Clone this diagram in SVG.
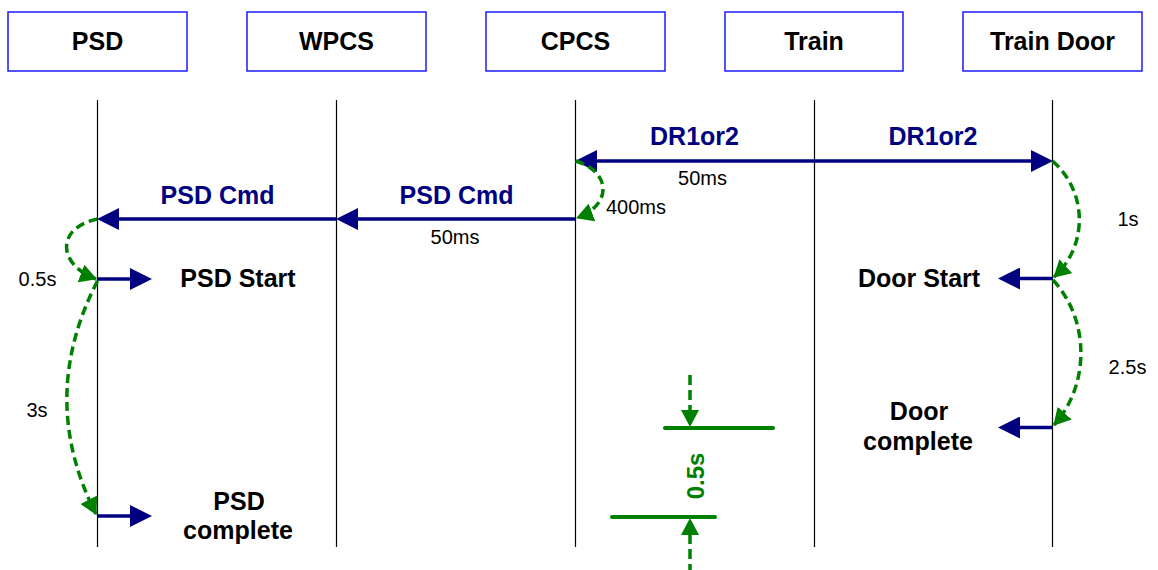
<svg xmlns="http://www.w3.org/2000/svg" width="1158" height="570" viewBox="0 0 1158 570">
  <style>
    .box{fill:#fff;stroke:#1a1aff;stroke-width:1.5}
    .hdr{font-family:"Liberation Sans",Arial,sans-serif;font-weight:bold;font-size:25px;fill:#000;text-anchor:middle}
    .life{stroke:#000;stroke-width:1.2;fill:none}
    .msg{stroke:#000080;stroke-width:3.5;fill:none}
    .mlbl{font-family:"Liberation Sans",Arial,sans-serif;font-weight:bold;font-size:25px;fill:#000080;text-anchor:middle}
    .evt{font-family:"Liberation Sans",Arial,sans-serif;font-weight:bold;font-size:25px;fill:#000;text-anchor:middle}
    .tm{font-family:"Liberation Sans",Arial,sans-serif;font-size:20px;fill:#000;text-anchor:middle}
    .gd{stroke:#008000;stroke-width:3.5;fill:none;stroke-dasharray:9 5}
    .gs{stroke:#008000;stroke-width:4;fill:none;stroke-linecap:round}
    .gfill{fill:#008000}
    .glbl{font-family:"Liberation Sans",Arial,sans-serif;font-weight:bold;font-size:24px;fill:#008000;text-anchor:middle}
  </style>
  <defs>
    <marker id="nav" markerUnits="userSpaceOnUse" markerWidth="22" markerHeight="22" viewBox="0 0 22 22" refX="16" refY="11" orient="auto-start-reverse">
      <path d="M0,0 L22,11 L0,22 z" fill="#000080"/>
    </marker>
    <marker id="grn" markerUnits="userSpaceOnUse" markerWidth="17" markerHeight="19" viewBox="0 0 17 19" refX="16" refY="9.5" orient="auto">
      <path d="M0,0 L17,9.5 L0,19 z" fill="#008000"/>
    </marker>
  </defs>

  <g id="node-psd">
    <rect class="box" x="8" y="12" width="179" height="59"/>
    <text class="hdr" x="97.5" y="49.5">PSD</text>
  </g>
  <g id="node-wpcs">
    <rect class="box" x="247" y="12" width="179" height="59"/>
    <text class="hdr" x="336.5" y="49.5">WPCS</text>
  </g>
  <g id="node-cpcs">
    <rect class="box" x="486" y="12" width="179" height="59"/>
    <text class="hdr" x="575.5" y="49.5">CPCS</text>
  </g>
  <g id="node-train">
    <rect class="box" x="725" y="12" width="178" height="59"/>
    <text class="hdr" x="814" y="49.5">Train</text>
  </g>
  <g id="node-traindoor">
    <rect class="box" x="963" y="12" width="179" height="59"/>
    <text class="hdr" x="1052.5" y="49.5">Train Door</text>
  </g>

  <g id="lifelines">
    <line class="life" x1="97.5" y1="100" x2="97.5" y2="547"/>
    <line class="life" x1="336.5" y1="100" x2="336.5" y2="547"/>
    <line class="life" x1="575.5" y1="100" x2="575.5" y2="547"/>
    <line class="life" x1="814.5" y1="100" x2="814.5" y2="547"/>
    <line class="life" x1="1052.5" y1="100" x2="1052.5" y2="547"/>
  </g>

  <g id="connectors">
    <line class="msg" x1="581" y1="161" x2="1047" y2="161" marker-start="url(#nav)" marker-end="url(#nav)"/>
    <line class="msg" x1="575.5" y1="219" x2="342" y2="219" marker-end="url(#nav)"/>
    <line class="msg" x1="336.5" y1="219" x2="103" y2="219" marker-end="url(#nav)"/>
    <line class="msg" x1="97.5" y1="279" x2="146" y2="279" marker-end="url(#nav)"/>
    <line class="msg" x1="97.5" y1="516" x2="146" y2="516" marker-end="url(#nav)"/>
    <line class="msg" x1="1052.5" y1="278.5" x2="1004" y2="278.5" marker-end="url(#nav)"/>
    <line class="msg" x1="1052.5" y1="427.5" x2="1004" y2="427.5" marker-end="url(#nav)"/>

    <path class="gd" d="M575.5,161 C612,172 612,205 577,218" marker-end="url(#grn)"/>
    <path class="gd" d="M97.5,219 C55,228 58,265 96,279" marker-end="url(#grn)"/>
    <path class="gd" d="M97.5,281 Q37,398 96,514" marker-end="url(#grn)"/>
    <path class="gd" d="M1052.5,161 C1088,192 1088,246 1054,277" marker-end="url(#grn)"/>
    <path class="gd" d="M1053,280 C1090,320 1090,385 1054,425" marker-end="url(#grn)"/>

    <line class="gd" x1="690" y1="375" x2="690" y2="411" style="stroke-dasharray:10 5"/>
    <polygon class="gfill" points="681,410 699,410 690,427"/>
    <line class="gs" x1="665" y1="428" x2="773" y2="428"/>
    <line class="gs" x1="612" y1="517" x2="715" y2="517"/>
    <polygon class="gfill" points="690,518 681,535 699,535"/>
    <line class="gd" x1="690" y1="534" x2="690" y2="570" style="stroke-dasharray:10 5"/>
  </g>

  <g id="labels">
    <text class="mlbl" x="694.5" y="145">DR1or2</text>
    <text class="mlbl" x="933" y="145">DR1or2</text>
    <text class="tm" x="702.5" y="184.5">50ms</text>
    <text class="mlbl" x="217.5" y="203.5">PSD Cmd</text>
    <text class="mlbl" x="456.5" y="203.5">PSD Cmd</text>
    <text class="tm" x="455" y="243.5">50ms</text>
    <text class="tm" x="636" y="214">400ms</text>
    <text class="tm" x="37.5" y="286">0.5s</text>
    <text class="tm" x="37" y="417">3s</text>
    <text class="tm" x="1128" y="226">1s</text>
    <text class="tm" x="1127.5" y="374">2.5s</text>
    <text class="evt" x="238" y="286.5">PSD Start</text>
    <text class="evt" x="239" y="510">PSD</text>
    <text class="evt" x="238" y="539">complete</text>
    <text class="evt" x="919" y="286.5">Door Start</text>
    <text class="evt" x="919" y="420">Door</text>
    <text class="evt" x="918" y="450">complete</text>
    <text class="glbl" transform="translate(704,476) rotate(-90)">0.5s</text>
  </g>
</svg>
